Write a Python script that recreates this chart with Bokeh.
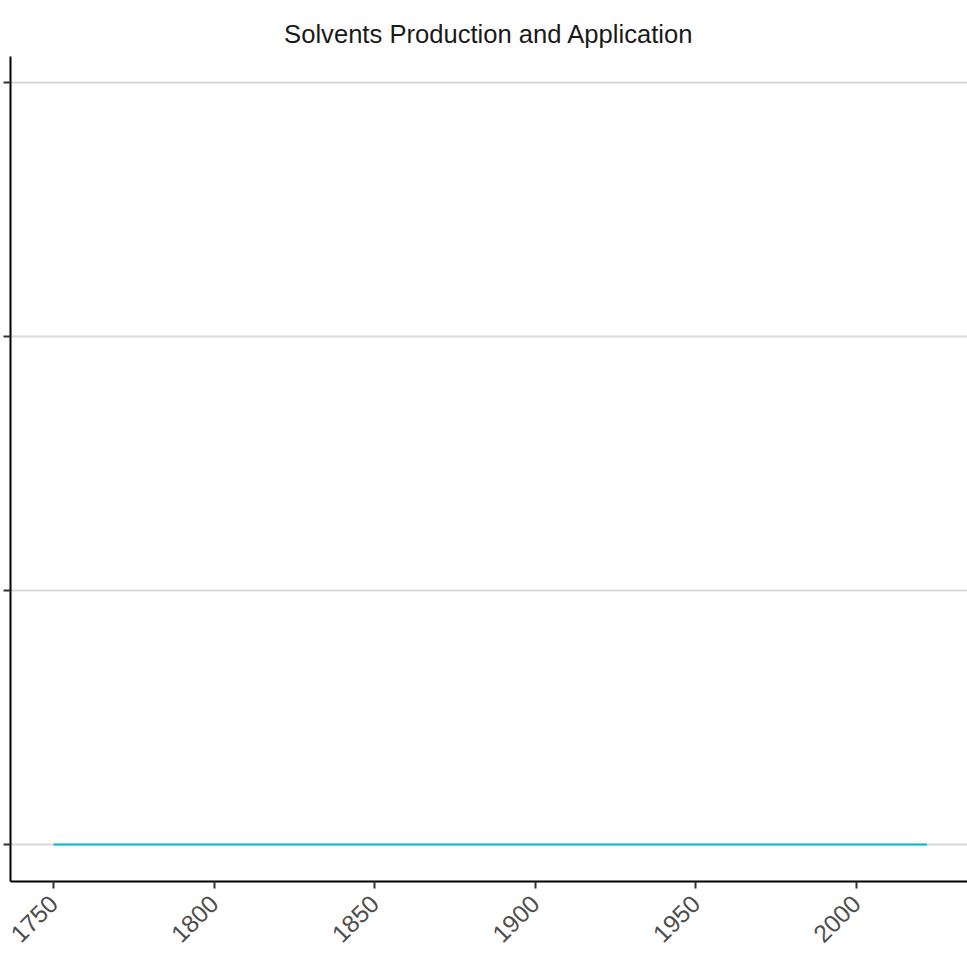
from bokeh.plotting import figure
from bokeh.embed import file_html
from bokeh.resources import INLINE
from bokeh.models import FixedTicker, Range1d
import math

# Data: flat series at zero from 1750 to 2022
years = [1750, 1800, 1850, 1900, 1950, 2000, 2022]
values = [0, 0, 0, 0, 0, 0, 0]
x_ticks = [1750, 1800, 1850, 1900, 1950, 2000]
y_ticks = [0, 1, 2, 3]
title_text = "Solvents Production and Application"

p = figure(width=967, height=953, output_backend="svg", toolbar_location=None,
           x_range=Range1d(1736.6, 2034.6), y_range=Range1d(-0.1457, 3.102),
           min_border_left=10, min_border_right=0, min_border_top=56, min_border_bottom=72)

p.title.text = title_text
p.title.align = "center"
p.title.text_font = "Liberation Sans"
p.title.text_font_size = "25.6px"
p.title.text_font_style = "normal"
p.title.text_color = "#1a1a1a"
p.title.standoff = 17

p.line(years, values, line_color="#00BFC4", line_width=2.2)

p.outline_line_color = None
p.background_fill_color = "white"
p.border_fill_color = "white"

p.xgrid.visible = False
p.ygrid.ticker = FixedTicker(ticks=y_ticks)
p.ygrid.grid_line_color = "#dadada"
p.ygrid.grid_line_width = 2

p.xaxis.ticker = FixedTicker(ticks=x_ticks)
p.xaxis.axis_line_color = "black"
p.xaxis.axis_line_width = 2
p.xaxis.major_tick_line_color = "#333333"
p.xaxis.major_tick_line_width = 2
p.xaxis.major_tick_out = 7
p.xaxis.major_tick_in = 0
p.xaxis.minor_tick_line_color = None
p.xaxis.major_label_orientation = math.pi / 4
p.xaxis.major_label_text_font = "Liberation Sans"
p.xaxis.major_label_text_font_size = "24.5px"
p.xaxis.major_label_text_color = "#4d4d4d"
p.xaxis.major_label_standoff = 11

p.yaxis.ticker = FixedTicker(ticks=y_ticks)
p.yaxis.major_label_overrides = {t: "" for t in y_ticks}
p.yaxis.axis_line_color = "black"
p.yaxis.axis_line_width = 2
p.yaxis.major_tick_line_color = "#333333"
p.yaxis.major_tick_line_width = 2
p.yaxis.major_tick_out = 7
p.yaxis.major_tick_in = 0
p.yaxis.minor_tick_line_color = None
p.yaxis.major_label_standoff = 0
p.yaxis.major_label_text_font_size = "1px"

open("out.html", "w").write(file_html(p, INLINE))
